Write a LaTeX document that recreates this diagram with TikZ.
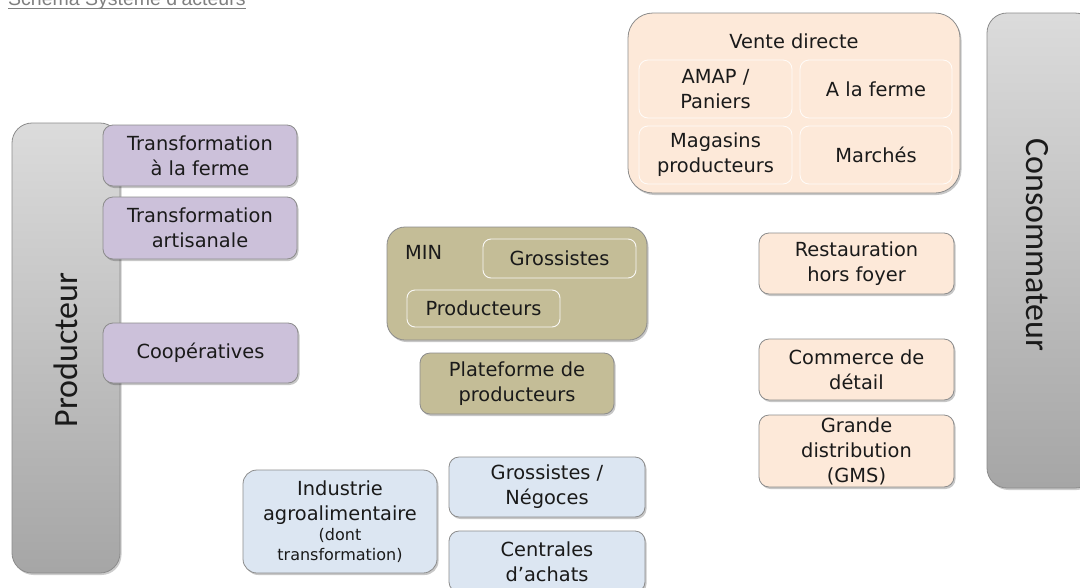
\documentclass[tikz,border=0pt]{standalone}
\usepackage{fontspec}
\setmainfont{DejaVu Sans}
\newfontfamily\carl{Carlito}
\newfontfamily\arialf{Liberation Sans}
\usetikzlibrary{shadows}
\definecolor{purp}{HTML}{CCC1DA}
\definecolor{peach}{HTML}{FDE9D9}
\definecolor{olive}{HTML}{C4BD97}
\definecolor{bluef}{HTML}{DCE6F2}
\definecolor{bord}{HTML}{8C8C8C}
\definecolor{txt}{HTML}{1A1A1A}
\definecolor{titlegray}{HTML}{7F7F7F}
\tikzset{
  box/.style={draw=bord, line width=0.8pt, rounded corners=10pt, inner sep=0pt, align=center,
    text=txt, font=\fontsize{19.4}{25}\selectfont,
    drop shadow={shadow xshift=1.5pt, shadow yshift=-2pt, fill=black, opacity=0.22}},
  purpbox/.style={box, fill=purp},
  peachbox/.style={box, fill=peach},
  olivebox/.style={box, fill=olive},
  bluebox/.style={box, fill=bluef},
  innerpeach/.style={draw=white!85!peach, line width=0.8pt, rounded corners=9pt, fill=peach, inner sep=0pt,
    align=center, text=txt, font=\fontsize{19.4}{25}\selectfont},
  innerolive/.style={draw=white!90!olive, line width=0.9pt, rounded corners=8pt, fill=olive, inner sep=0pt,
    align=center, text=txt, font=\fontsize{19.4}{25}\selectfont},
  bar/.style={draw=bord, line width=0.8pt, rounded corners=20pt, top color=black!14, bottom color=black!35,
    inner sep=0pt, drop shadow={shadow xshift=1.5pt, shadow yshift=-2pt, fill=black, opacity=0.2}},
  bigtxt/.style={font=\carl\fontsize{34}{36}\selectfont, text=txt, inner sep=0pt},
}
\newcommand\smallfs{\fontsize{16}{20}\selectfont}
\begin{document}
\begin{tikzpicture}[x=1pt,y=-1pt]
\useasboundingbox (0,0) rectangle (1080,587);
% title (cut off at top, as in the reference)
\node[anchor=base west, inner sep=0pt, text=titlegray, font=\arialf\fontsize{19.5}{22}\selectfont] (title) at (8,5.5) {Schéma Système d’acteurs};
\draw[titlegray, line width=1pt] (title.south west |- 0,8.5) -- (title.south east |- 0,8.5);

% Producteur bar
\node[bar, minimum width=108pt, minimum height=450pt] (prod) at (66,348) {};
\node[bigtxt, rotate=90] (prodt) at (66,350) {Producteur};

% Consommateur bar
\node[bar, minimum width=108pt, minimum height=475pt] (cons) at (1041,250.5) {};
\node[bigtxt, rotate=-90] (const) at (1037,245) {Consommateur};

% purple
\node[purpbox, minimum width=194pt, minimum height=61pt] (tf) at (200,155.5) {Transformation\\à la ferme};
\node[purpbox, minimum width=194pt, minimum height=62pt] (ta) at (200,228) {Transformation\\artisanale};
\node[purpbox, minimum width=195pt, minimum height=60pt] (coop) at (200.5,353) {Coopératives};

% Vente directe
\node[peachbox, rounded corners=25pt, minimum width=332pt, minimum height=180pt] (vd) at (794,103) {};
\node[text=txt, font=\fontsize{19.4}{25}\selectfont, inner sep=0pt] (vdt) at (794,41) {Vente directe};
\node[innerpeach, minimum width=153pt, minimum height=58pt] (amap) at (715.5,89) {AMAP /\\Paniers};
\node[innerpeach, minimum width=152pt, minimum height=58pt] (alf) at (876,89) {A la ferme};
\node[innerpeach, minimum width=153pt, minimum height=58pt] (mag) at (715.5,155) {Magasins\\producteurs};
\node[innerpeach, minimum width=152pt, minimum height=58pt] (mar) at (876,155) {Marchés};

% MIN
\node[olivebox, rounded corners=18pt, minimum width=260pt, minimum height=113pt] (min) at (517,283.5) {};
\node[anchor=west, text=txt, font=\fontsize{19.4}{25}\selectfont, inner sep=0pt] (mint) at (405,252) {MIN};
\node[innerolive, minimum width=153pt, minimum height=39pt] (gro) at (559.5,258.5) {Grossistes};
\node[innerolive, minimum width=153pt, minimum height=37pt] (pmin) at (483.5,308.5) {Producteurs};
\node[olivebox, minimum width=194pt, minimum height=61pt] (plat) at (517,383.5) {Plateforme de\\producteurs};

% blue
\node[bluebox, rounded corners=14pt, minimum width=194pt, minimum height=103pt] (ind) at (340,521.5) {Industrie\\agroalimentaire\\[-5pt]\smallfs (dont\\[-5pt]\smallfs transformation)};
\node[bluebox, minimum width=196pt, minimum height=60pt] (neg) at (547,487) {Grossistes /\\Négoces};
\node[bluebox, minimum width=196pt, minimum height=61pt] (cen) at (547,561.5) {Centrales\\d’achats};

% peach right column
\node[peachbox, minimum width=195pt, minimum height=61pt] (rest) at (856.5,263.5) {Restauration\\hors foyer};
\node[peachbox, minimum width=195pt, minimum height=61pt] (com) at (856.5,369.5) {Commerce de\\détail};
\node[peachbox, minimum width=195pt, minimum height=72pt] (gms) at (856.5,451) {Grande\\distribution\\(GMS)};
\end{tikzpicture}
\end{document}
